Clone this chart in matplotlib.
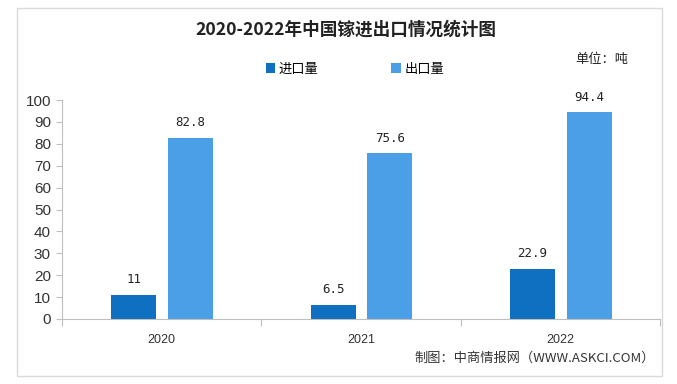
import matplotlib
matplotlib.use("Agg")
import matplotlib.pyplot as plt
import numpy as np
from matplotlib.patches import Rectangle

plt.rcParams['font.family'] = ['Noto Sans CJK SC', 'DejaVu Sans']

years = ['2020', '2021', '2022']
imports = [11, 6.5, 22.9]
exports = [82.8, 75.6, 94.4]
import_labels = ['11', '6.5', '22.9']
export_labels = ['82.8', '75.6', '94.4']
yticks = [0, 10, 20, 30, 40, 50, 60, 70, 80, 90, 100]

c_imp = '#0f6fc0'
c_exp = '#4a9fe6'

fig = plt.figure(figsize=(6.77, 3.84), dpi=100)
ax = fig.add_axes([62/677, 1-319/384, (660-62)/677, (319-100)/384])

x = np.arange(len(years))
w = 0.225
ax.bar(x - 0.14, imports, w, color=c_imp, label='进口量')
ax.bar(x + 0.145, exports, w, color=c_exp, label='出口量')

for xi, v, t in zip(x, imports, import_labels):
    ax.text(xi - 0.14, v + 4, t, ha='center', va='bottom', fontsize=9,
            family=['DejaVu Sans Mono'], color='#222222')
for xi, v, t in zip(x, exports, export_labels):
    ax.text(xi + 0.145, v + 4, t, ha='center', va='bottom', fontsize=9,
            family=['DejaVu Sans Mono'], color='#222222')

ax.set_xlim(-0.5, 2.5)
ax.set_ylim(0, 100)
ax.set_yticks(yticks)
ax.set_yticklabels([str(t) for t in yticks], family=['Liberation Sans'], fontsize=11, color='#333333')
ax.set_xticks([-0.5, 0.5, 1.5, 2.5])
ax.set_xticklabels([])
ax.set_xticks(x, minor=True)
ax.set_xticklabels(years, minor=True, family=['Liberation Sans'], fontsize=9, color='#333333')
ax.tick_params(axis='x', which='minor', length=0, pad=11)
ax.tick_params(axis='x', which='major', length=5, color='#bfbfbf')
ax.tick_params(axis='y', length=4, color='#bfbfbf', pad=4)
for s in ['top', 'right']:
    ax.spines[s].set_visible(False)
ax.spines['left'].set_color('#bfbfbf')
ax.spines['bottom'].set_color('#bfbfbf')

fig.text(346/677, 1-30/384, '2020-2022年中国镓进出口情况统计图', ha='center', va='center',
         fontsize=12.7, fontweight='bold', color='#222222')

leg = fig.legend(loc='center', bbox_to_anchor=(355/677, 1-69/384), ncol=2, frameon=False,
                 fontsize=9.5, handlelength=0.7, handleheight=0.7, columnspacing=5.5,
                 handletextpad=0.3)

fig.text(575/677, 1-60/384, '单位：吨', ha='left', va='center', fontsize=9.5, color='#222222')
fig.text(655/677, 1-358/384, '制图：中商情报网（WWW.ASKCI.COM）', ha='right', va='center',
         fontsize=9.5, color='#333333')

fig.patches.append(Rectangle((17/677, 8/384), (662-17)/677, (376-8)/384, transform=fig.transFigure,
                             fill=False, edgecolor='#d9d9d9', linewidth=1))

fig.savefig('out.png', dpi=100)
